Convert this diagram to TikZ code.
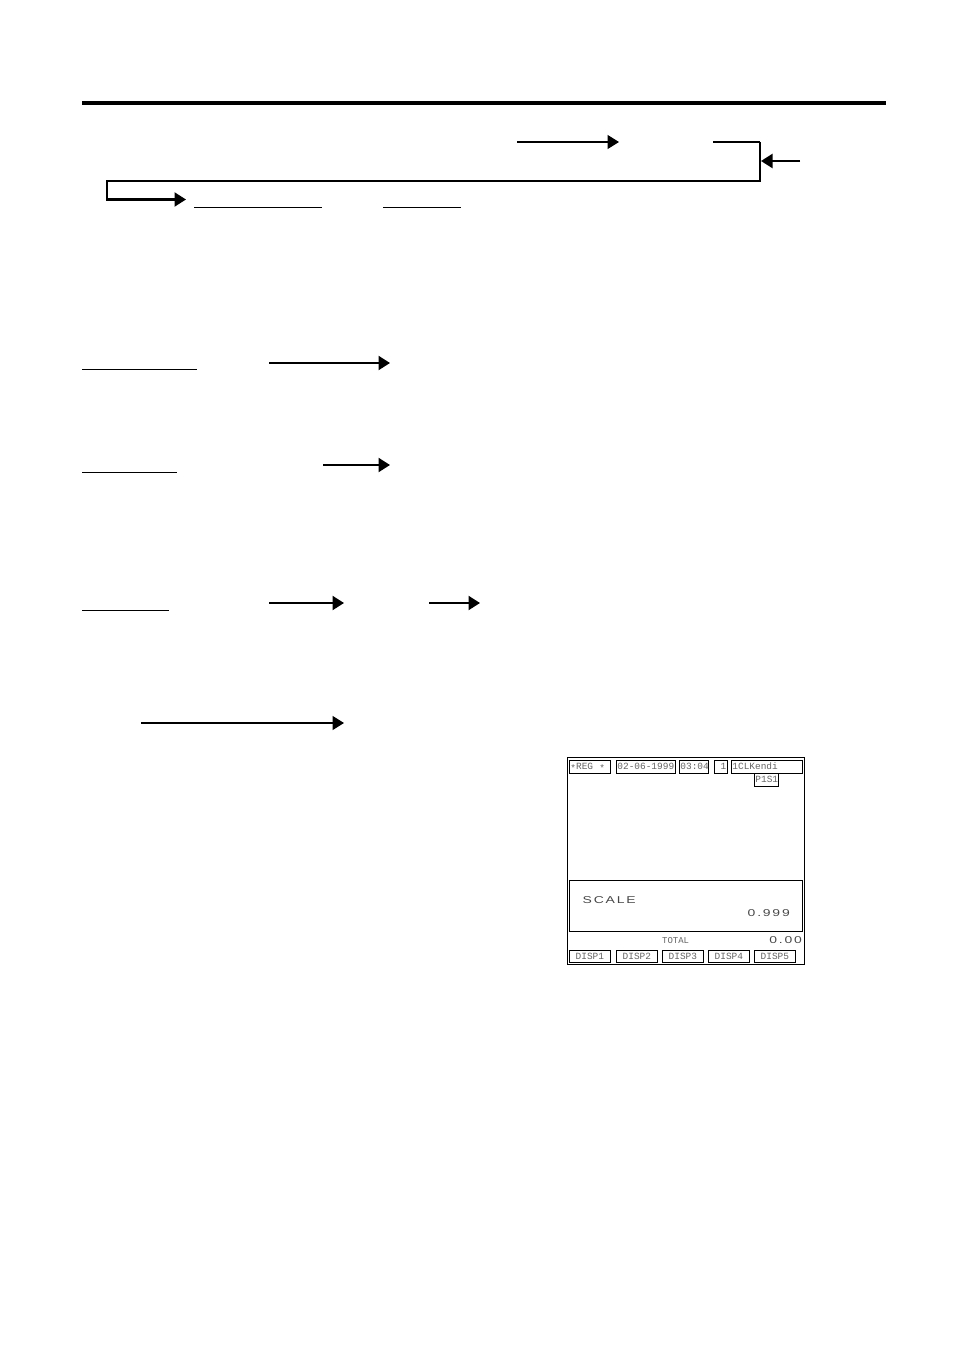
\documentclass[tikz,border=0pt]{standalone}
\usepackage{fontspec}
\usetikzlibrary{arrows.meta}
\newfontfamily\scrmono{Liberation Mono}
\newfontfamily\lcdfont[FakeStretch=1.4,LetterSpace=18]{Liberation Sans}
\definecolor{scrgray}{RGB}{100,100,100}
\newcommand{\lowstar}{\raisebox{-2bp}[0pt][0pt]{*}}
\tikzset{
  thinline/.style={line width=1bp},
  medline/.style={line width=1.4bp},
  heavy/.style={line width=2.2bp},
  tip/.style={-{Triangle[length=11.5bp,width=14bp]}},
  pbox/.style={draw, line width=0.8bp, inner sep=1bp, minimum height=13bp,
    text height=7bp, text depth=2bp,
    anchor=north west, font=\scrmono\fontsize{9.5}{10}\selectfont,
    text=scrgray, align=left},
  dbox/.style={draw, line width=0.8bp, inner sep=0bp, minimum height=12bp,
    minimum width=41bp, anchor=north west,
    font=\scrmono\fontsize{9.5}{10}\selectfont, text=scrgray},
  lcd/.style={inner sep=0bp, font=\lcdfont\fontsize{10}{11}\selectfont, text=black!72},
  monolbl/.style={inner sep=0bp, font=\scrmono\fontsize{9}{10}\selectfont, text=scrgray},
}
\begin{document}
\begin{tikzpicture}[x=1bp,y=-1bp]
\useasboundingbox (0,0) rectangle (954,1351);
% top rule
\coordinate (r0) at (82,103);
\coordinate (r1) at (886,103);
\draw[line width=3.5bp] (r0) -- (r1);
% first row
\coordinate (a1s) at (517,142);
\coordinate (a1e) at (619,142);
\draw[medline, tip] (a1s) -- (a1e);
\coordinate (b0) at (713,142);
\coordinate (b1) at (760,142);
\coordinate (b2) at (760,181);
\coordinate (b3) at (107,181);
\coordinate (b4) at (107,199.5);
\coordinate (b5) at (186,199.5);
\draw[medline] (b0) -- (b1);
\draw[heavy, tip] (b1) -- (b2) -- (b3) -- (b4) -- (b5);
\coordinate (c0) at (800,161);
\coordinate (c1) at (761,161);
\draw[heavy, tip] (c0) -- (c1);
\coordinate (u1a) at (194,207.5);
\coordinate (u1b) at (322,207.5);
\coordinate (u2a) at (383,207.5);
\coordinate (u2b) at (461,207.5);
\draw[thinline] (u1a) -- (u1b);
\draw[thinline] (u2a) -- (u2b);
% row 2
\coordinate (u3a) at (82,369.5);
\coordinate (u3b) at (197,369.5);
\draw[thinline] (u3a) -- (u3b);
\coordinate (a2s) at (269,363);
\coordinate (a2e) at (390,363);
\draw[heavy, tip] (a2s) -- (a2e);
% row 3
\coordinate (u4a) at (82,472);
\coordinate (u4b) at (177,472);
\draw[thinline] (u4a) -- (u4b);
\coordinate (a3s) at (323,465);
\coordinate (a3e) at (390,465);
\draw[heavy, tip] (a3s) -- (a3e);
% row 4
\coordinate (u5a) at (82,610);
\coordinate (u5b) at (169,610);
\draw[thinline] (u5a) -- (u5b);
\coordinate (a4s) at (269,603);
\coordinate (a4e) at (344,603);
\draw[heavy, tip] (a4s) -- (a4e);
\coordinate (a5s) at (429,603);
\coordinate (a5e) at (480,603);
\draw[heavy, tip] (a5s) -- (a5e);
% row 5
\coordinate (a6s) at (141,723);
\coordinate (a6e) at (344,723);
\draw[medline, tip] (a6s) -- (a6e);
% display panel
\node[draw, line width=0.9bp, inner sep=0bp, anchor=north west,
  minimum width=237bp, minimum height=206.5bp] (panel) at (566.5,757) {};
\node[pbox, text width=39bp] (reg) at (569,760) {\lowstar REG~~\lowstar};
\node[pbox, text width=57bp] (date) at (616,760) {02-06-1999};
\node[pbox, text width=27bp] (time) at (679,760) {03:04};
\node[pbox, text width=11bp, align=right] (num) at (714,760) {1};
\node[pbox, text width=69bp] (clerk) at (731,760) {1CLKendi};
\node[pbox, text width=22bp] (pos) at (754,773) {P1S1};
\node[draw, line width=0.9bp, inner sep=0bp, anchor=north west,
  minimum width=233bp, minimum height=51bp] (scalebox) at (569,880) {};
\node[lcd, anchor=west] (scl) at (582.5,900.5) {SCALE};
\node[lcd, anchor=east] (wt) at (790,913.5) {0.999};
\node[monolbl, anchor=west] (tot) at (662,940.5) {TOTAL};
\node[lcd, anchor=east] (totv) at (802,940.5) {0.00};
\node[dbox] (d1) at (569,950) {DISP1};
\node[dbox] (d2) at (616,950) {DISP2};
\node[dbox] (d3) at (662,950) {DISP3};
\node[dbox] (d4) at (708,950) {DISP4};
\node[dbox] (d5) at (754,950) {DISP5};
\end{tikzpicture}
\end{document}
